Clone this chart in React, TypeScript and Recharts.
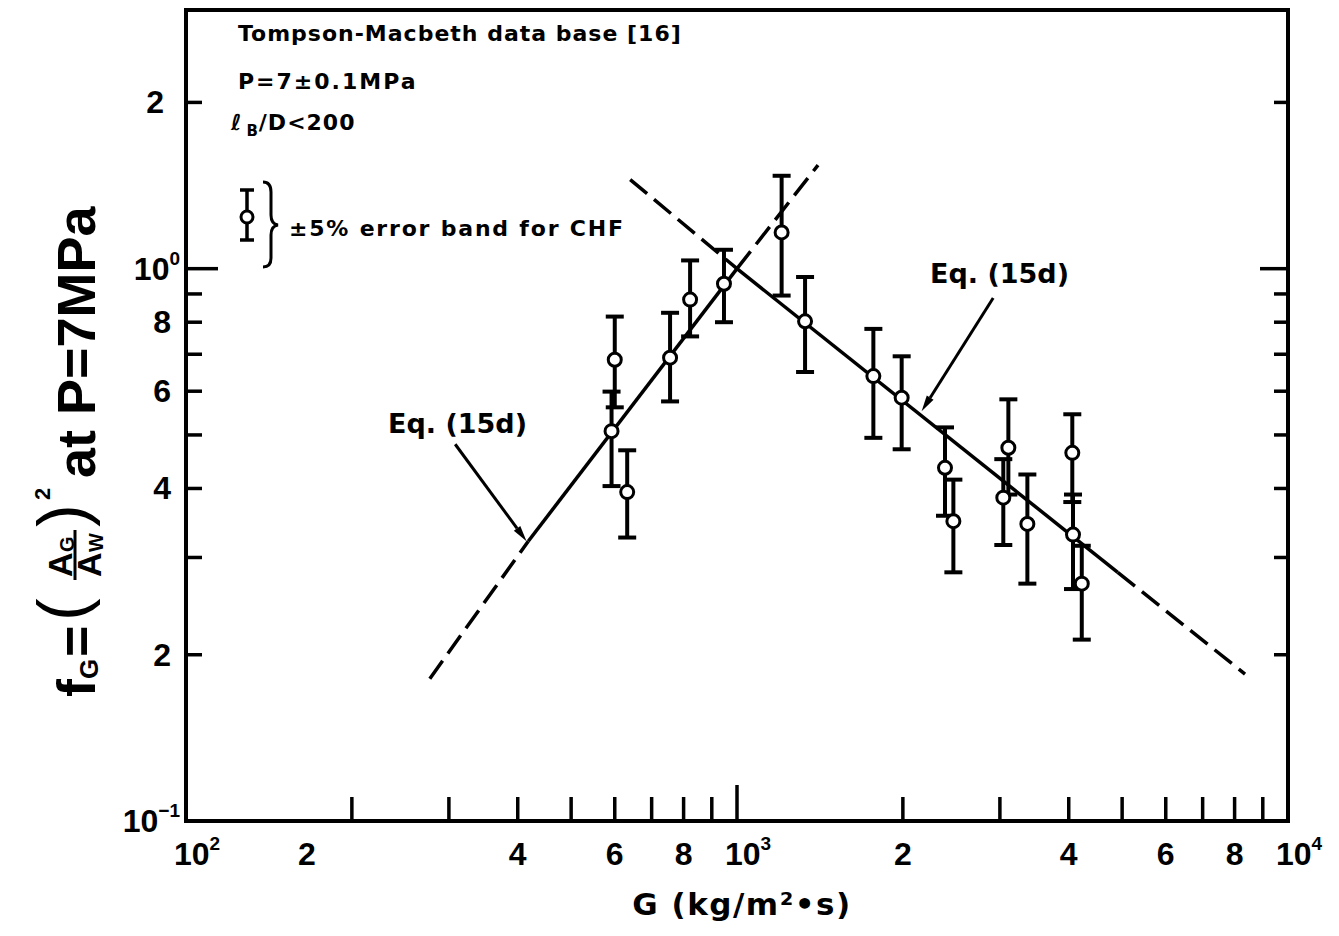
import React from "react";
import {
  ComposedChart,
  Scatter,
  Line,
  XAxis,
  YAxis,
  ErrorBar,
  ReferenceArea,
  ReferenceLine,
} from "recharts";

// measured points (Tompson-Macbeth data base), G in kg/m2s
const massFlux = [592, 600, 632, 756, 822, 947, 1205, 1329, 1768, 1990, 2385, 2470, 3043, 3108, 3365, 4060, 4072, 4224];
const fG = [0.508, 0.684, 0.394, 0.69, 0.879, 0.939, 1.163, 0.803, 0.639, 0.584, 0.436, 0.349, 0.385, 0.474, 0.345, 0.464, 0.33, 0.269];
const fGHigh = [0.599, 0.819, 0.469, 0.832, 1.035, 1.082, 1.473, 0.966, 0.778, 0.694, 0.516, 0.415, 0.452, 0.58, 0.424, 0.545, 0.39, 0.315];
const fGLow = [0.404, 0.561, 0.326, 0.575, 0.754, 0.8, 0.894, 0.65, 0.494, 0.471, 0.357, 0.282, 0.316, 0.39, 0.269, 0.378, 0.263, 0.213];

// Eq. (15d) lines, split into solid / dashed parts
const riseDashLow = [{ G: 277, f: 0.181 }, { G: 418, f: 0.321 }];
const riseSolid = [{ G: 418, f: 0.321 }, { G: 1000, f: 1.0 }];
const riseDashHigh = [{ G: 1000, f: 1.0 }, { G: 1403, f: 1.54 }];
const fallDashHigh = [{ G: 640, f: 1.45 }, { G: 1000, f: 1.0 }];
const fallSolid = [{ G: 1000, f: 1.0 }, { G: 4909, f: 0.282 }];
const fallDashLow = [{ G: 4909, f: 0.282 }, { G: 8356, f: 0.1845 }];

// arrows from the "Eq. (15d)" labels
const arrowLeft = [{ x: 308, y: 0.481 }, { x: 415, y: 0.321 }];
const arrowRight = [{ x: 2917, y: 0.885 }, { x: 2163, y: 0.552 }];

const xTicks = [100, 200, 300, 400, 500, 600, 700, 800, 900, 1000, 2000, 3000, 4000, 5000, 6000, 7000, 8000, 9000, 10000];
const xLabelValues = [100, 200, 400, 600, 800, 1000, 2000, 4000, 6000, 8000, 10000];
const xLabelTexts = ["10^2", "2", "4", "6", "8", "10^3", "2", "4", "6", "8", "10^4"];
const yTicks = [0.1, 0.2, 0.3, 0.4, 0.5, 0.6, 0.7, 0.8, 0.9, 1, 2];
const yLabelValues = [0.1, 0.2, 0.4, 0.6, 0.8, 1, 2];
const yLabelTexts = ["10^−1", "2", "4", "6", "8", "10^0", "2"];

const points = massFlux.map((G, i) => ({
  G,
  f: fG[i],
  err: [fG[i] - fGLow[i], fGHigh[i] - fG[i]],
}));

const TICK_FONT = "'Liberation Sans', Arial, sans-serif";
const TEXT_FONT = "'DejaVu Sans', sans-serif";

function XTick(props: any) {
  const { x, y, payload } = props;
  const v = payload.value;
  const idx = xLabelValues.indexOf(v);
  const len = v === 1000 ? 36 : 24;
  const corner = v === 100 || v === 10000;
  let label = null;
  if (idx >= 0) {
    const t = xLabelTexts[idx];
    if (t.includes("^")) {
      const [b, e] = t.split("^");
      label = (
        <text x={x - 12} y={y + 44} fontSize={32} fontWeight="bold" fontFamily={TICK_FONT} textAnchor="start">
          {b}
          <tspan dy={-15} fontSize={19}>{e}</tspan>
        </text>
      );
    } else {
      // the lower "2" sits left of its tick in the original
      const dx = v === 200 ? -45 : 0;
      label = (
        <text x={x + dx} y={y + 44} fontSize={32} fontWeight="bold" fontFamily={TICK_FONT} textAnchor="middle">
          {t}
        </text>
      );
    }
  }
  return (
    <g>
      {!corner && <line x1={x} x2={x} y1={y} y2={y - len} stroke="#000" strokeWidth={3.5} />}
      {label}
    </g>
  );
}

function YTickLeft(props: any) {
  const { x, y, payload } = props;
  const v = payload.value;
  const idx = yLabelValues.indexOf(v);
  const len = v === 1 ? 32 : 16;
  let label = null;
  if (idx >= 0) {
    const t = yLabelTexts[idx];
    if (t.includes("^")) {
      const [b, e] = t.split("^");
      label = (
        <text x={x - 6} y={y + 11} fontSize={32} fontWeight="bold" fontFamily={TICK_FONT} textAnchor="end">
          {b}
          <tspan dy={-15} fontSize={19}>{e}</tspan>
        </text>
      );
    } else {
      const dx = v === 2 ? -22 : -15;
      label = (
        <text x={x + dx} y={y + 11} fontSize={32} fontWeight="bold" fontFamily={TICK_FONT} textAnchor="end">
          {t}
        </text>
      );
    }
  }
  return (
    <g>
      {v !== 0.1 && <line x1={x} x2={x + len} y1={y} y2={y} stroke="#000" strokeWidth={3.5} />}
      {label}
    </g>
  );
}

function YTickRight(props: any) {
  const { x, y, payload } = props;
  const v = payload.value;
  if (v === 0.1) return <g />;
  const len = v === 1 ? 28 : 14;
  return <line x1={x} x2={x - len} y1={y} y2={y} stroke="#000" strokeWidth={3.5} />;
}

function Ring(props: any) {
  const { cx, cy } = props;
  if (cx == null || cy == null) return <g />;
  return <circle cx={cx} cy={cy} r={6.5} fill="#fff" stroke="#000" strokeWidth={3} />;
}

function Arrow(props: any) {
  const { x1, y1, x2, y2 } = props;
  const a = Math.atan2(y2 - y1, x2 - x1);
  const len = 16;
  const half = 4;
  const bx = x2 - len * Math.cos(a);
  const by = y2 - len * Math.sin(a);
  const pts = `${x2},${y2} ${bx - half * Math.sin(a)},${by + half * Math.cos(a)} ${bx + half * Math.sin(a)},${by - half * Math.cos(a)}`;
  return (
    <g>
      <line x1={x1} y1={y1} x2={bx} y2={by} stroke="#000" strokeWidth={3} />
      <polygon points={pts} fill="#000" />
    </g>
  );
}

const rot = (x: number, y: number) => `translate(${x},${y}) rotate(-90)`;

function Annotations() {
  const bold = { fontFamily: TEXT_FONT, fontWeight: "bold" as const, fontSize: 22, letterSpacing: 1 };
  const ylab = { fontFamily: TICK_FONT, fontWeight: "bold" as const };
  return (
    <g transform="translate(-8,-8)">
      <text x={238} y={41} {...bold}>Tompson-Macbeth data base [16]</text>
      <text x={238} y={89} {...bold} letterSpacing={2}>P=7±0.1MPa</text>
      <text x={231} y={130} {...bold}>
        ℓ
        <tspan dx={4} dy={6} fontSize={15}>B</tspan>
        <tspan dy={-6}>/D&lt;200</tspan>
      </text>

      {/* legend: error-bar symbol with brace */}
      <line x1={247} x2={247} y1={190} y2={240} stroke="#000" strokeWidth={3.5} />
      <line x1={240} x2={254} y1={190} y2={190} stroke="#000" strokeWidth={3.5} />
      <line x1={240} x2={254} y1={240} y2={240} stroke="#000" strokeWidth={3.5} />
      <circle cx={247} cy={217} r={6} fill="#fff" stroke="#000" strokeWidth={3} />
      <path
        d="M263,182 Q271,182 271,192 L271,215 Q271,224 278,225 Q271,226 271,235 L271,258 Q271,267 263,267"
        fill="none"
        stroke="#000"
        strokeWidth={3}
      />
      <text x={289} y={236} {...bold} letterSpacing={1.8}>±5% error band for CHF</text>

      <text x={388} y={433} fontFamily={TEXT_FONT} fontWeight="bold" fontSize={27}>Eq. (15d)</text>
      <text x={930} y={283} fontFamily={TEXT_FONT} fontWeight="bold" fontSize={27}>Eq. (15d)</text>

      {/* y axis title, rotated */}
      <text transform={rot(95, 697)} fontSize={54} {...ylab}>f</text>
      <text transform={rot(98, 679)} fontSize={26} {...ylab}>G</text>
      <text transform={rot(95, 657)} fontSize={54} {...ylab}>=</text>
      <text transform={rot(86, 621)} fontSize={68} fontFamily={TICK_FONT}>(</text>
      <text transform={rot(72, 577)} fontSize={34} {...ylab}>A</text>
      <text transform={rot(74, 552)} fontSize={20} {...ylab}>G</text>
      <line x1={75} x2={75} y1={580} y2={530} stroke="#000" strokeWidth={3} />
      <text transform={rot(101, 577)} fontSize={34} {...ylab}>A</text>
      <text transform={rot(103, 552)} fontSize={20} {...ylab}>W</text>
      <text transform={rot(86, 527)} fontSize={68} fontFamily={TICK_FONT}>)</text>
      <text transform={rot(50, 500)} fontSize={22} {...ylab}>2</text>
      <text transform={rot(95, 478)} fontSize={54} {...ylab}>at P=7MPa</text>

      <text x={742} y={915} textAnchor="middle" fontFamily={TEXT_FONT} fontWeight="bold" fontSize={31} letterSpacing={1.5}>
        G (kg/m²•s)
      </text>
    </g>
  );
}

const solid = { stroke: "#000", strokeWidth: 3.5 };
const dashed = { stroke: "#000", strokeWidth: 3.5, strokeDasharray: "22 9" };

export default function App() {
  return (
    <div style={{ width: 1323, height: 920, background: "#fff" }}>
      <ComposedChart width={1323} height={920} margin={{ top: 2, right: 0, bottom: 0, left: 0 }}>
        <XAxis
          dataKey="G"
          type="number"
          scale="log"
          domain={[100, 10000]}
          allowDataOverflow
          ticks={xTicks}
          interval={0}
          tickSize={0}
          tickMargin={0}
          tickLine={false}
          axisLine={false}
          height={107}
          tick={<XTick />}
        />
        <YAxis
          yAxisId="left"
          dataKey="f"
          type="number"
          scale="log"
          domain={[0.1, 2.94]}
          allowDataOverflow
          ticks={yTicks}
          interval={0}
          tickSize={0}
          tickMargin={0}
          tickLine={false}
          axisLine={false}
          width={178}
          tick={<YTickLeft />}
        />
        <YAxis
          yAxisId="right"
          orientation="right"
          type="number"
          scale="log"
          domain={[0.1, 2.94]}
          allowDataOverflow
          ticks={yTicks}
          interval={0}
          tickSize={0}
          tickMargin={0}
          tickLine={false}
          axisLine={false}
          width={43}
          tick={<YTickRight />}
        />
        <ReferenceArea
          yAxisId="left"
          x1={100}
          x2={10000}
          y1={0.1}
          y2={2.94}
          fill="none"
          fillOpacity={0}
          stroke="#000"
          strokeWidth={4}
          ifOverflow="visible"
        />

        <Line yAxisId="left" data={riseDashLow} dataKey="f" {...dashed} dot={false} activeDot={false} isAnimationActive={false} />
        <Line yAxisId="left" data={riseSolid} dataKey="f" {...solid} dot={false} activeDot={false} isAnimationActive={false} />
        <Line yAxisId="left" data={riseDashHigh} dataKey="f" {...dashed} dot={false} activeDot={false} isAnimationActive={false} />
        <Line yAxisId="left" data={fallDashHigh} dataKey="f" {...dashed} dot={false} activeDot={false} isAnimationActive={false} />
        <Line yAxisId="left" data={fallSolid} dataKey="f" {...solid} dot={false} activeDot={false} isAnimationActive={false} />
        <Line yAxisId="left" data={fallDashLow} dataKey="f" {...dashed} dot={false} activeDot={false} isAnimationActive={false} />

        <ReferenceLine yAxisId="left" segment={arrowLeft} shape={Arrow} ifOverflow="visible" />
        <ReferenceLine yAxisId="left" segment={arrowRight} shape={Arrow} ifOverflow="visible" />

        <Scatter yAxisId="left" data={points} dataKey="f" shape={Ring} isAnimationActive={false}>
          <ErrorBar dataKey="err" direction="y" width={9} stroke="#000" strokeWidth={4} isAnimationActive={false} />
        </Scatter>

        <Annotations />
      </ComposedChart>
    </div>
  );
}
